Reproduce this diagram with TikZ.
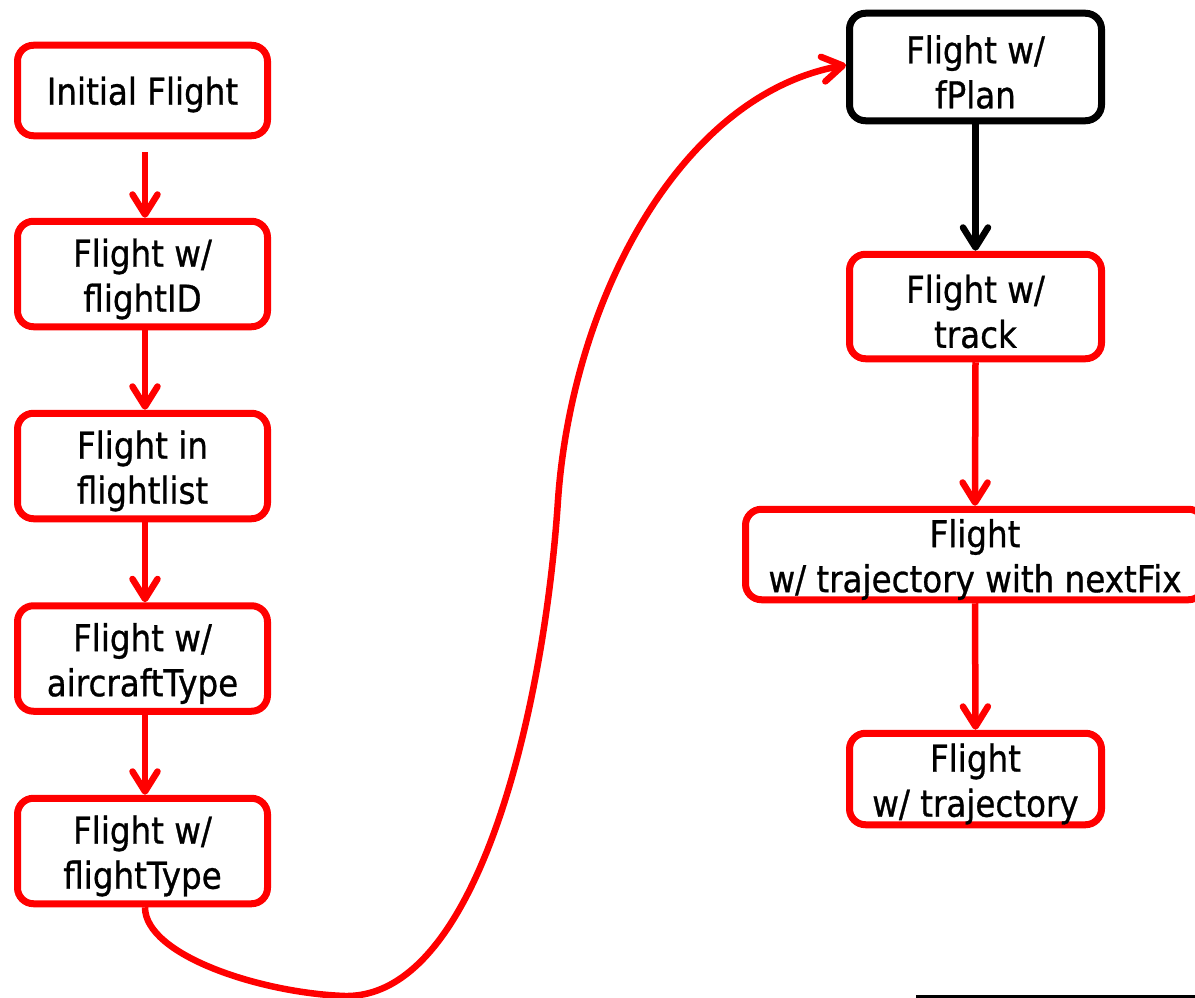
\documentclass[tikz,border=0pt]{standalone}
\usepackage{fontspec}
\setmainfont{DejaVu Sans}[FakeStretch=0.88,FakeBold=0.8]
\usetikzlibrary{arrows.meta}

\begin{document}
\begin{tikzpicture}[x=1pt,y=-1pt,
  box/.style={draw=red, line width=7pt, rounded corners=16pt, fill=white,
    inner sep=0pt},
  leftbox/.style={box, minimum width=250pt, minimum height=105.5pt},
  rightbox/.style={box, minimum width=252pt, minimum height=104.5pt},
  txt/.style={align=center, inner sep=0pt, font=\fontsize{37}{45}\selectfont},
  flow/.style={draw=red, line width=6.5pt,
    -{Straight Barb[length=20pt,width=25pt,line cap=round,line join=round]}},
  blackflow/.style={flow, draw=black}
]
\useasboundingbox (0,0) rectangle (1195,998);
\clip (0,0) rectangle (1195,998);

% left column
\node[leftbox, minimum height=90.5pt] (init) at (142.5,90.5) {};
\node[leftbox] (fid)    at (142.5,274) {};
\node[leftbox] (flist)  at (142.5,466) {};
\node[leftbox] (actype) at (142.5,658.5) {};
\node[leftbox] (ftype)  at (142.5,851) {};

% right column
\node[rightbox, draw=black, minimum height=107.5pt] (fplan) at (975.5,67) {};
\node[rightbox] (track) at (975.5,306.5) {};
\node[box, minimum width=459pt, minimum height=90.5pt] (nfix) at (975,554.5) {};
\node[rightbox, minimum height=91.5pt] (traj) at (975.5,779) {};

% box captions
\node[txt] (initT)   at ([yshift=-4pt]init.center)   {Initial Flight};
\node[txt] (fidT)    at ([yshift=-5pt]fid.center)    {Flight w/\\flightID};
\node[txt] (flistT)  at ([yshift=-5pt]flist.center)  {Flight in\\flightlist};
\node[txt] (actypeT) at ([yshift=-5pt]actype.center) {Flight w/\\aircraftType};
\node[txt] (ftypeT)  at ([yshift=-5pt]ftype.center)  {Flight w/\\flightType};
\node[txt] (fplanT)  at ([yshift=-5pt]fplan.center)  {Flight w/\\fPlan};
\node[txt] (trackT)  at ([yshift=-5pt]track.center)  {Flight w/\\track};
\node[txt] (nfixT)   at ([yshift=-5pt]nfix.center)   {Flight\\w/ trajectory with nextFix};
\node[txt] (trajT)   at ([yshift=-5pt]traj.center)   {Flight\\w/ trajectory};

% connectors
\draw[flow, shorten <=13pt] (init.south -| 145,0) -- (fid.north -| 145,0);
\draw[flow] (fid.south -| 145,0) -- (flist.north -| 145,0);
\draw[flow] (flist.south -| 145,0) -- (actype.north -| 145,0);
\draw[flow] (actype.south -| 145,0) -- (ftype.north -| 145,0);
\draw[blackflow] (fplan.south) -- (track.north);
\draw[flow] (track.south) -- (nfix.north);
\draw[flow] (nfix.south) -- (traj.north);

\coordinate (dip) at (345,996);
\coordinate (rise) at (558,500);
\coordinate (entry) at ([yshift=2pt]fplan.west);
\draw[flow] (ftype.south -| 145,0) .. controls (145,955) and (260,993) .. (dip)
  .. controls (480,998) and (545,700) .. (rise)
  .. controls (572,300) and (680,95) .. (entry);

% rule at the lower right edge
\draw[line width=2.5pt] (916,996.5) -- (1195,996.5);
\end{tikzpicture}
\end{document}
